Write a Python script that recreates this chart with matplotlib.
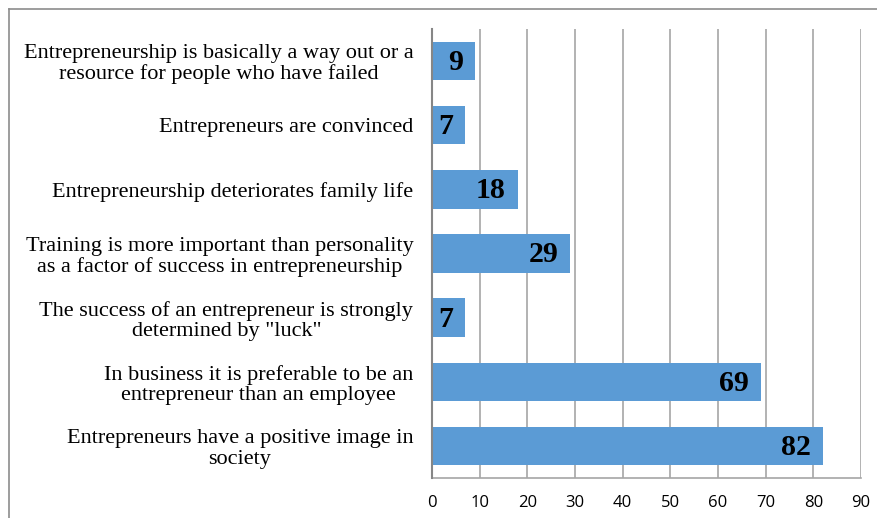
import matplotlib
matplotlib.use("Agg")
import matplotlib.pyplot as plt
from matplotlib.lines import Line2D

categories = [
    "Entrepreneurs have a positive image in\nsociety",
    "In business it is preferable to be an\nentrepreneur than an employee",
    "The success of an entrepreneur is strongly\ndetermined by \"luck\"",
    "Training is more important than personality\nas a factor of success in entrepreneurship",
    "Entrepreneurship deteriorates family life",
    "Entrepreneurs are convinced",
    "Entrepreneurship is basically a way out or a\nresource for people who have failed",
]
values = [82, 69, 7, 29, 18, 7, 9]
xticks = [0, 10, 20, 30, 40, 50, 60, 70, 80, 90]

W, H = 877, 518
fig = plt.figure(figsize=(W / 100, H / 100), dpi=100)
ax = fig.add_axes([432 / W, 1 - 478 / H, (861 - 432) / W, (478 - 29) / H])

pos = list(range(len(categories)))
bars = ax.barh(pos, values, height=0.6, color="#5B9BD5", zorder=3)
ax.set_xlim(0, 90)
ax.set_ylim(-0.5, len(categories) - 0.5)
ax.set_xticks(xticks)
ax.set_xticklabels([str(t) for t in xticks], fontsize=12, family="Open Sans")
ax.set_yticks(pos)
ax.set_yticklabels(categories, fontsize=16, family="Liberation Serif",
                   multialignment="center", linespacing=1.08)
ax.tick_params(axis="y", length=0, pad=13.5)
ax.tick_params(axis="x", length=0, pad=12)
ax.grid(axis="x", color="#A6A6A6", linewidth=1.2, zorder=0)
for side in ["top", "right"]:
    ax.spines[side].set_visible(False)
ax.spines["left"].set_color("#868686")
ax.spines["left"].set_linewidth(1.5)
ax.spines["bottom"].set_color("#A6A6A6")
ax.spines["bottom"].set_linewidth(1.2)
ax.spines["left"].set_zorder(4)

for p, v in zip(pos, values):
    ax.annotate(str(v), xy=(v, p), xytext=(-8.5, -1), textcoords="offset points",
                ha="right", va="center", fontsize=21.5, fontweight="bold",
                family="Liberation Serif", color="black", zorder=5)

# chart area border (top and left visible)
fig.add_artist(Line2D([9 / W, 1], [1 - 9 / H, 1 - 9 / H], color="#8C8C8C", linewidth=1.2, transform=fig.transFigure))
fig.add_artist(Line2D([9 / W, 9 / W], [0, 1 - 9 / H], color="#8C8C8C", linewidth=1.2, transform=fig.transFigure))

fig.savefig("out.png", dpi=100)
